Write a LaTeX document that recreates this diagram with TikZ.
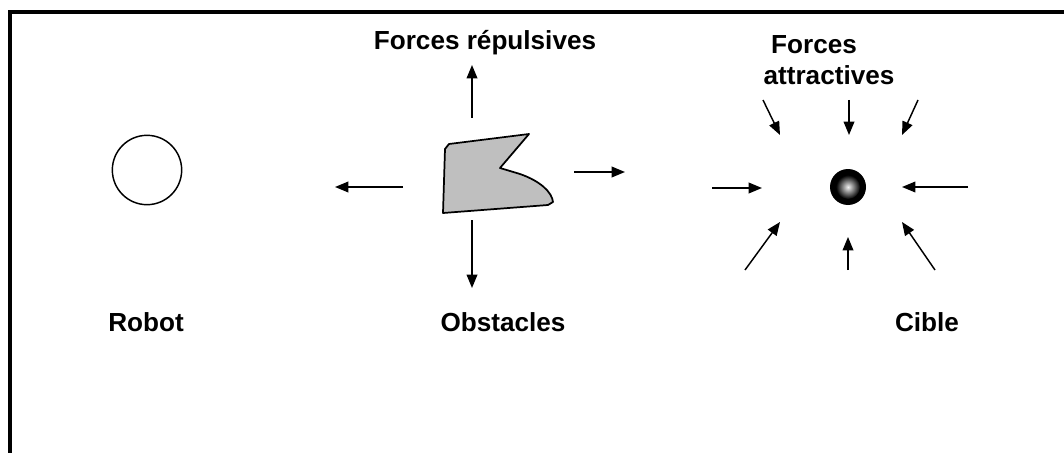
\documentclass[tikz,border=0pt]{standalone}
\usepackage{fontspec}
\setmainfont{Liberation Sans}
\usetikzlibrary{arrows.meta}
\begin{document}
\begin{tikzpicture}[x=0.75pt,y=-0.75pt,
  lbl/.style={font=\fontsize{19.6}{23}\selectfont\bfseries, inner sep=0pt},
  force/.style={line width=1.1pt, -{Triangle[length=10pt,width=8pt]}},
  framel/.style={line width=3pt},
  robotc/.style={circle, draw, line width=1.1pt, minimum size=52pt, inner sep=0pt},
  obst/.style={line width=1.3pt, fill=gray!50, line join=round},
]
\useasboundingbox (0,0) rectangle (1064,453);
\fill[white] (0,0) rectangle (1064,453);
% frame
\coordinate (fb) at (10,453);
\coordinate (fc) at (10,12);
\coordinate (fr) at (1064,12);
\draw[framel] (fb) -- (fc) -- (fr);

% robot
\node[robotc] (robot) at (147,170) {};
\node[lbl] (robotl) at (146,322) {Robot};

% obstacle
\draw[obst] (449,144) -- (529,134) -- (500,168) -- (520,174)
  .. controls (540,181) and (552,192) .. (553,202)
  -- (548,205) -- (443,213) -- (445,149) -- cycle;
\node[lbl] (obstl) at (503,322) {Obstacles};
\node[lbl] (repl) at (485,43) {Forces répulsives};

% repulsive forces
\coordinate (ru0) at (472,118); \coordinate (ru1) at (472,65);
\coordinate (rl0) at (403,187); \coordinate (rl1) at (335,187);
\coordinate (rr0) at (574,172); \coordinate (rr1) at (625,172);
\coordinate (rd0) at (472,220); \coordinate (rd1) at (472,288);
\draw[force] (ru0) -- (ru1);
\draw[force] (rl0) -- (rl1);
\draw[force] (rr0) -- (rr1);
\draw[force] (rd0) -- (rd1);

% target
\node[circle, fill=black, minimum size=27pt, inner sep=0pt] (cible) at (848,187) {};
\shade[inner color=gray!10, outer color=black] (cible.center) circle (9pt);
\node[lbl] (cibl) at (927,322) {Cible};
\node[lbl] (att1) at (814,45) {Forces};
\node[lbl] (att2) at (829,75) {attractives};

% attractive forces
\coordinate (a1s) at (763,100); \coordinate (a1e) at (780,135);
\coordinate (a2s) at (849,100); \coordinate (a2e) at (849,135);
\coordinate (a3s) at (918,100); \coordinate (a3e) at (902,135);
\coordinate (a4s) at (712,188); \coordinate (a4e) at (762,188);
\coordinate (a5s) at (968,187); \coordinate (a5e) at (902,187);
\coordinate (a6s) at (745,270); \coordinate (a6e) at (780,222);
\coordinate (a7s) at (848,270); \coordinate (a7e) at (848,237);
\coordinate (a8s) at (935,270); \coordinate (a8e) at (902,222);
\foreach \i in {1,...,8} {\draw[force] (a\i s) -- (a\i e);}
\end{tikzpicture}
\end{document}
